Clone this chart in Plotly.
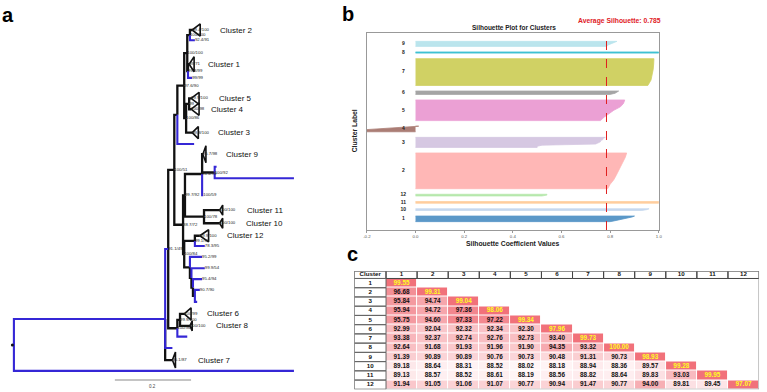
import numpy as np
import plotly.graph_objects as go

W, H = 767, 392
FONT = "Liberation Sans, Arial, sans-serif"

# ---------------- Panel a : phylogeny (depth in substitutions/site) ----------------
node_name = ["Root", "Out", "A", "B", "C", "D", "E", "F", "G", "C2", "a", "H", "C1", "b",
             "I", "J", "C5", "C4", "C3", "c",
             "K", "L", "M", "C9", "N", "d2", "d", "e", "O", "C11", "C10",
             "P", "Q", "C12", "f", "R", "g", "S", "h", "T", "i", "U", "j", "k",
             "V", "W", "C6", "C8", "l", "m", "C7"]
node_parent = [None, "Root", "Root", "A", "B", "C", "D", "E", "F", "G", "G", "F", "H", "H",
               "E", "I", "J", "J", "I", "D",
               "C", "K", "L", "M", "M", "N", "N", "M", "L", "O", "O",
               "K", "P", "Q", "Q", "P", "R", "R", "S", "S", "T", "T", "U", "U",
               "B", "V", "W", "W", "V", "A", "A"]
node_depth = [0.000, 0.735, 0.397, 0.405, 0.421, 0.429, 0.447, 0.455, 0.462, 0.468, 0.475, 0.457, 0.460, 0.468,
              0.452, 0.460, 0.465, 0.465, 0.468, 0.473,
              0.444, 0.449, 0.494, 0.496, 0.527, 0.532, 0.735, 0.497, 0.499, 0.540, 0.540,
              0.447, 0.475, 0.488, 0.501, 0.462, 0.494, 0.466, 0.501, 0.470, 0.494, 0.475, 0.488, 0.481,
              0.429, 0.436, 0.447, 0.462, 0.455, 0.416, 0.416]

leaf_names = ["C2", "a", "C1", "b", "C5", "C4", "C3", "c", "C9", "d2", "d", "e", "C11", "C10",
              "C12", "f", "g", "h", "i", "j", "k", "C6", "C8", "l", "m", "C7", "Out"]
leaf_rows = [0.0, 0.9, 3.0, 4.2, 6.0, 6.95, 9.0, 10.0, 10.9, 12.0, 13.0, 14.5, 15.8, 16.95,
             18.05, 18.95, 19.9, 20.9, 21.85, 22.8, 23.85, 24.9, 25.95, 26.9, 27.9, 28.95, 29.9]

blue_branches = ["Out", "A", "B", "a", "b", "c", "d2", "d", "e", "f", "g", "h", "i", "j", "k", "l", "m"]

clade_nodes = ["C2", "C1", "C5", "C4", "C3", "C9", "C11", "C10", "C12", "C6", "C8", "C7"]
clade_labels = ["Cluster 2", "Cluster 1", "Cluster 5", "Cluster 4", "Cluster 3", "Cluster 9",
                "Cluster 11", "Cluster 10", "Cluster 12", "Cluster 6", "Cluster 8", "Cluster 7"]
clade_extent = [0.021, 0.013, 0.021, 0.021, 0.016, 0.008, 0.008, 0.008, 0.023, 0.018, 0.006, 0.008]
clade_halfspan = [0.53, 0.66, 0.53, 0.53, 0.53, 0.75, 0.44, 0.44, 0.53, 0.53, 0.44, 0.70]
clade_label_gap = [18, 12, 18, 10, 18, 18, 22, 21, 16, 14, 22, 21]

support_nodes = ["C2", "G", "a", "H", "C1", "b", "F", "I", "C5", "J", "C4", "E", "C3", "C9", "N", "M",
                 "L", "e", "K", "C11", "O", "C10", "C12", "Q", "P", "f", "C", "g", "h", "i", "j",
                 "B", "C6", "V", "C8", "W", "C7"]
support_text = ["99.4/100", "100/100", "92.4/91", "99.3/99", "89/71", "99/99", "100/100", "100/86",
                "99.9/100", "99", "100/98", "97.6/90", "99.8/100", "95.7/98", "100/92", "94.4/99",
                "99.7/92", "100/59", "88.7/72", "100/100", "100/78", "100/100", "99.9/100", "99.1/98",
                "100/84", "78.3/95", "100/51", "95.2/99", "99.9/54", "95.4/94", "90.7/90",
                "91.1/49", "100/99", "100/96", "100/100", "99.9/100", "95.1/87"]

scale_bar_length = 0.2

# ---------------- Panel b : silhouette ----------------
sil_clusters = ["1", "10", "11", "12", "2", "3", "4", "5", "6", "7", "8", "9"]
sil_sizes = [10, 3, 3, 3, 64, 18, 10, 37, 6, 48, 2, 9]
sil_profiles = [
    [0.80, 0.82, 0.84, 0.86, 0.88, 0.89, 0.90],
    [0.93, 0.95, 0.96],
    [1.0, 1.0, 1.0],
    [0.52, 0.54, 0.54],
    [0.79, 0.80, 0.815, 0.825, 0.835, 0.845, 0.855, 0.862, 0.868],
    [0.50, 0.50, 0.52, 0.74, 0.75, 0.76, 0.76, 0.77, 0.77, 0.78],
    [-0.35, -0.30, -0.26, -0.22, -0.20, -0.15, -0.10, -0.05, 0.0, 0.013],
    [0.76, 0.775, 0.795, 0.815, 0.842, 0.855, 0.86],
    [0.80, 0.82, 0.83, 0.835],
    [0.955, 0.968, 0.974, 0.977, 0.979, 0.98],
    [1.0, 1.0],
    [0.787, 0.79, 0.80, 0.815, 0.828],
]
sil_colors = ["#5b98c8", "#c6d8ef", "#ffcfa0", "#b7e9ad", "#ffb7b6", "#d6c8e2", "#ab7d75",
              "#eba0d4", "#a5a5a5", "#d0d164", "#3fc2d2", "#bbe5ed"]
avg_silhouette = 0.785
sil_xticks = [-0.2, 0.0, 0.2, 0.4, 0.6, 0.8, 1.0]

# ---------------- Panel c : identity table ----------------
tab_clusters = [str(i) for i in range(1, 13)]
tab_rows = [
    [99.55],
    [96.68, 99.31],
    [95.84, 94.74, 99.04],
    [95.94, 94.72, 97.36, 98.06],
    [95.75, 94.60, 97.33, 97.22, 99.34],
    [92.99, 92.04, 92.32, 92.34, 92.30, 97.96],
    [93.38, 92.37, 92.74, 92.76, 92.73, 93.40, 99.73],
    [92.64, 91.68, 91.93, 91.96, 91.90, 94.35, 93.32, 100.00],
    [91.39, 90.89, 90.89, 90.76, 90.73, 90.48, 91.31, 90.73, 98.93],
    [89.18, 88.64, 88.31, 88.52, 88.02, 88.18, 88.94, 88.36, 89.57, 99.28],
    [89.13, 88.57, 88.52, 88.61, 88.19, 88.56, 88.82, 88.64, 89.83, 93.03, 99.95],
    [91.94, 91.05, 91.06, 91.07, 90.77, 90.94, 91.47, 90.77, 94.00, 89.81, 89.45, 97.07],
]

# =================================================================
fig = go.Figure()

# ---- tree layout computation
depth = dict(zip(node_name, node_depth))
parent = dict(zip(node_name, node_parent))
children = {n: [] for n in node_name}
for n, p in zip(node_name, node_parent):
    if p is not None:
        children[p].append(n)
ypos = dict(zip(leaf_names, leaf_rows))


def get_y(n):
    if n in ypos:
        return ypos[n]
    v = float(np.mean([get_y(c) for c in children[n]]))
    ypos[n] = v
    return v


get_y("Root")

seg = {"black": ([], []), "blue": ([], [])}
for n in node_name:
    p = parent[n]
    if p is None:
        continue
    key = "blue" if n in blue_branches else "black"
    xs, ys = seg[key]
    xs += [depth[p], depth[p], depth[n], None]
    ys += [ypos[p], ypos[n], ypos[n], None]

fig.add_trace(go.Scatter(x=seg["black"][0], y=seg["black"][1], mode="lines",
                         line=dict(color="#111111", width=2.3), xaxis="x", yaxis="y",
                         hoverinfo="skip", showlegend=False))
fig.add_trace(go.Scatter(x=seg["blue"][0], y=seg["blue"][1], mode="lines",
                         line=dict(color="#3527d6", width=2.1), xaxis="x", yaxis="y",
                         hoverinfo="skip", showlegend=False))

# collapsed clade triangles
tx, ty = [], []
for n, ext, hs in zip(clade_nodes, clade_extent, clade_halfspan):
    x0, y0 = depth[n], ypos[n]
    tx += [x0, x0 + ext, x0 + ext, x0, None]
    ty += [y0, y0 - hs, y0 + hs, y0, None]
fig.add_trace(go.Scatter(x=tx, y=ty, mode="lines", line=dict(color="#111111", width=1.6),
                         xaxis="x", yaxis="y", hoverinfo="skip", showlegend=False))

for n, lab, ext, gap in zip(clade_nodes, clade_labels, clade_extent, clade_label_gap):
    fig.add_annotation(x=depth[n] + ext, y=ypos[n], xref="x", yref="y", text=lab,
                       showarrow=False, xanchor="left", yanchor="middle", xshift=gap,
                       font=dict(family=FONT, size=8, color="#111111"))

# support values
fig.add_trace(go.Scatter(x=[depth[n] for n in support_nodes], y=[ypos[n] for n in support_nodes],
                         mode="text", text=support_text, textposition="middle right",
                         textfont=dict(family=FONT, size=4.3, color="#222222"),
                         xaxis="x", yaxis="y", hoverinfo="skip", showlegend=False, cliponaxis=False))

# root dot
fig.add_trace(go.Scatter(x=[depth["Root"] - 0.004], y=[ypos["Root"]], mode="markers",
                         marker=dict(color="#111111", size=3), xaxis="x", yaxis="y",
                         hoverinfo="skip", showlegend=False))

# scale bar
sb_x0 = 0.265
sb_y = 30.7
fig.add_trace(go.Scatter(x=[sb_x0, sb_x0 + scale_bar_length], y=[sb_y, sb_y], mode="lines",
                         line=dict(color="#b0b0b0", width=1.5), xaxis="x", yaxis="y",
                         hoverinfo="skip", showlegend=False))
fig.add_annotation(x=sb_x0 + scale_bar_length / 2, y=sb_y + 0.55, xref="x", yref="y",
                   text=str(scale_bar_length), showarrow=False, xanchor="center", yanchor="middle",
                   font=dict(family=FONT, size=4.5, color="#444444"))

# ---- silhouette
y_lower = 10
lab_x, lab_y = [], []
for cl, n, prof, col in zip(sil_clusters, sil_sizes, sil_profiles, sil_colors):
    ys = np.linspace(y_lower, y_lower + n, len(prof)).tolist()
    px = [0.0] + list(prof) + [0.0]
    py = [y_lower] + ys + [y_lower + n]
    fig.add_trace(go.Scatter(x=px, y=py, mode="lines", fill="toself", fillcolor=col,
                             line=dict(color=col, width=0.8), xaxis="x2", yaxis="y2",
                             hoverinfo="skip", showlegend=False))
    lab_x.append(-0.05)
    lab_y.append(y_lower + 0.5 * n)
    y_lower += n + 10

fig.add_trace(go.Scatter(x=lab_x, y=lab_y, mode="text", text=["<b>%s</b>" % c for c in sil_clusters],
                         textfont=dict(family=FONT, size=5, color="#222222"),
                         xaxis="x2", yaxis="y2", hoverinfo="skip", showlegend=False))

fig.add_shape(type="line", xref="x2", yref="y2 domain", x0=avg_silhouette, x1=avg_silhouette,
              y0=0, y1=1, line=dict(color="#e0201f", width=1, dash="dash"))

# ---- table
n_cl = len(tab_clusters)
z_off = [[None] * n_cl for _ in range(n_cl)]
z_diag = [[None] * n_cl for _ in range(n_cl)]
txt_x, txt_y, txt_s, txt_c = [], [], [], []
for r, row in enumerate(tab_rows):
    for c, v in enumerate(row):
        if r == c:
            z_diag[r][c] = v
            txt_c.append("#ffff22")
        else:
            z_off[r][c] = v
            txt_c.append("#111111")
        txt_x.append(c + 1)
        txt_y.append(r + 1)
        txt_s.append("<b>%.2f</b>" % v)

xs_cells = list(range(1, n_cl + 1))
fig.add_trace(go.Heatmap(z=z_off, x=xs_cells, y=xs_cells, zmin=88.0, zmax=97.4,
                         colorscale=[[0, "#fff6f7"], [1, "#f2868e"]], showscale=False,
                         xgap=1, ygap=1, xaxis="x3", yaxis="y3", hoverinfo="skip"))
fig.add_trace(go.Heatmap(z=z_diag, x=xs_cells, y=xs_cells, zmin=0, zmax=1,
                         colorscale=[[0, "#f1717a"], [1, "#f1717a"]], showscale=False,
                         xgap=1, ygap=1, xaxis="x3", yaxis="y3", hoverinfo="skip"))
fig.add_trace(go.Scatter(x=txt_x, y=txt_y, mode="text", text=txt_s,
                         textfont=dict(family=FONT, size=6.4, color=txt_c),
                         xaxis="x3", yaxis="y3", hoverinfo="skip", showlegend=False))

head_top, first_left = -0.31, -0.52
hdr_x = [(first_left + 0.5) / 2] + xs_cells
hdr_txt = ["<b>Cluster</b>"] + ["<b>%s</b>" % c for c in tab_clusters]
fig.add_trace(go.Scatter(x=hdr_x, y=[(head_top + 0.5) / 2] * len(hdr_x), mode="text", text=hdr_txt,
                         textfont=dict(family=FONT, size=6.2, color="#111111"),
                         xaxis="x3", yaxis="y3", hoverinfo="skip", showlegend=False))
fig.add_trace(go.Scatter(x=[(first_left + 0.5) / 2] * n_cl, y=xs_cells, mode="text",
                         text=["<b>%s</b>" % c for c in tab_clusters],
                         textfont=dict(family=FONT, size=6.2, color="#111111"),
                         xaxis="x3", yaxis="y3", hoverinfo="skip", showlegend=False))

# table grid lines
edges = [first_left] + [c + 0.5 for c in range(0, n_cl + 1)]
for i in range(len(edges) - 1):
    fig.add_shape(type="rect", xref="x3", yref="y3", x0=edges[i], x1=edges[i + 1], y0=head_top, y1=0.5,
                  line=dict(color="#444444", width=1))
for r in range(1, n_cl + 1):
    fig.add_shape(type="rect", xref="x3", yref="y3", x0=first_left, x1=0.5, y0=r - 0.5, y1=r + 0.5,
                  line=dict(color="#666666", width=1))
fig.add_shape(type="rect", xref="x3", yref="y3", x0=first_left, x1=n_cl + 0.5, y0=head_top, y1=n_cl + 0.5,
              line=dict(color="#888888", width=1))

# ---- text annotations (titles / panel letters)
def px2paper(xp, yp):
    return xp / W, 1 - yp / H


for letter, (xp, yp) in zip(["a", "b", "c"], [(-4, 15), (340, 14), (345, 254)]):
    ax_, ay_ = px2paper(xp, yp)
    fig.add_annotation(x=ax_, y=ay_, xref="paper", yref="paper", text="<b>%s</b>" % letter,
                       showarrow=False, xanchor="left", yanchor="middle",
                       font=dict(family=FONT, size=20, color="#000000"))

tx_, ty_ = px2paper(515, 28)
fig.add_annotation(x=tx_, y=ty_, xref="paper", yref="paper", text="<b>Silhouette Plot for Clusters</b>",
                   showarrow=False, xanchor="center", yanchor="middle",
                   font=dict(family=FONT, size=6.5, color="#222222"))
tx_, ty_ = px2paper(622, 21)
fig.add_annotation(x=tx_, y=ty_, xref="paper", yref="paper",
                   text="<b>Average Silhouette: %.3f</b>" % avg_silhouette,
                   showarrow=False, xanchor="center", yanchor="middle",
                   font=dict(family=FONT, size=6.8, color="#e0201f"))
tx_, ty_ = px2paper(355, 131)
fig.add_annotation(x=tx_, y=ty_, xref="paper", yref="paper", text="<b>Cluster Label</b>", textangle=-90,
                   showarrow=False, xanchor="center", yanchor="middle",
                   font=dict(family=FONT, size=6.8, color="#222222"))
tx_, ty_ = px2paper(514, 243)
fig.add_annotation(x=tx_, y=ty_, xref="paper", yref="paper", text="<b>Silhouette Coefficient Values</b>",
                   showarrow=False, xanchor="center", yanchor="middle",
                   font=dict(family=FONT, size=6.8, color="#222222"))

fig.update_layout(
    width=W, height=H, margin=dict(l=0, r=0, t=0, b=0),
    paper_bgcolor="white", plot_bgcolor="white", showlegend=False,
    xaxis=dict(domain=[0, 300 / W], range=[-0.026, 0.7532], visible=False),
    yaxis=dict(domain=[0, 1], range=[31.754, -2.632], visible=False),
    xaxis2=dict(domain=[366.7 / W, 661.7 / W], range=[-0.2, 1.0], anchor="y2",
                tickvals=sil_xticks, ticktext=["%.1f" % v for v in sil_xticks],
                tickfont=dict(family=FONT, size=4.3, color="#555555"), ticks="outside", ticklen=2,
                tickcolor="#999999", showline=True, mirror=True, linecolor="#999999", linewidth=1,
                showgrid=False, zeroline=False),
    yaxis2=dict(domain=[1 - 230 / H, 1 - 33 / H], range=[-5, 348], anchor="x2",
                showticklabels=False, ticks="", showline=True, mirror=True, linecolor="#999999",
                linewidth=1, showgrid=False, zeroline=False),
    xaxis3=dict(domain=[354 / W, 763 / W], range=[first_left, n_cl + 0.5], anchor="y3", visible=False),
    yaxis3=dict(domain=[1 - 389.3 / H, 1 - 271 / H], range=[n_cl + 0.5, head_top], anchor="x3",
                visible=False),
)

fig.write_html("out.html", config={"displayModeBar": False},
               post_script="document.body.style.margin='0px';document.body.style.overflow='hidden';")
